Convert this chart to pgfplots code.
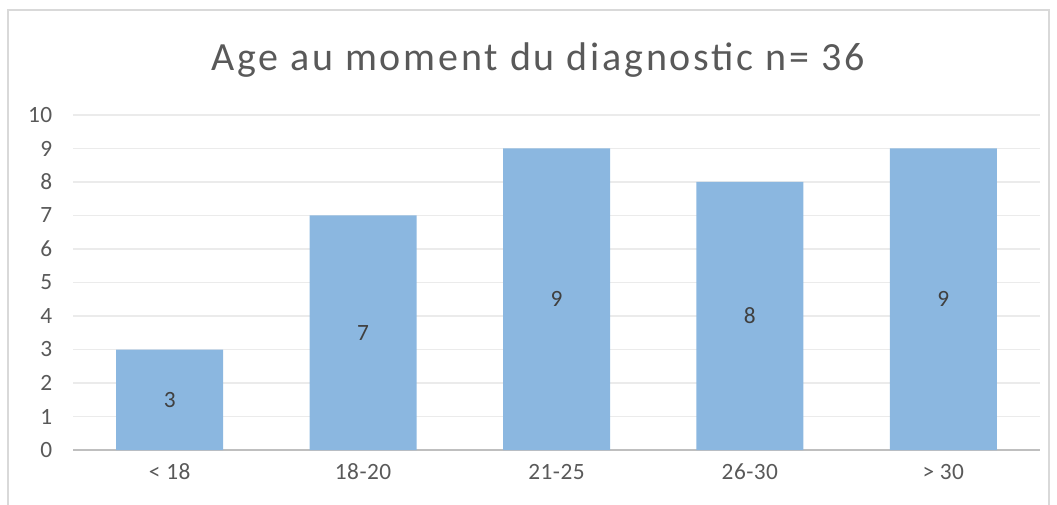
\documentclass[border=0pt]{standalone}
\usepackage{pgfplots}
\pgfplotsset{compat=1.18}
\usepackage{fontspec}
\setmainfont{Carlito}
\definecolor{barc}{RGB}{139,183,224}
\definecolor{txt}{RGB}{89,89,89}
\definecolor{lbl}{RGB}{64,64,64}
\definecolor{gridc}{RGB}{235,235,235}
\definecolor{axc}{RGB}{191,191,191}
\definecolor{frame}{RGB}{217,217,217}
\begin{document}
\begin{tikzpicture}[x=0.75pt,y=0.75pt]
\useasboundingbox (0,0) rectangle (1057,504);
\draw[frame,line width=1.5] (8,-5) -- (8,494) -- (1049,494) -- (1049,-5);
\node[txt,font=\fontsize{30}{35}\selectfont\addfontfeatures{LetterSpace=7}] at (538,444) {Age au moment du diagnostic n= 36};
\begin{axis}[
  at={(54.75pt,40.5pt)}, anchor=south west,
  scale only axis, width=725.25pt, height=251.25pt,
  xmin=-0.5, xmax=4.5, ymin=0, ymax=10,
  ytick={0,...,10},
  xtick={0,1,2,3,4},
  xticklabels={< 18,18-20,21-25,26-30,> 30},
  axis x line=bottom, axis y line=left,
  y axis line style={draw=none},
  x axis line style={draw=axc,line width=1.5pt,-},
  major tick length=0pt,
  ymajorgrids, grid style={gridc,line width=1.2pt},
  tick label style={txt,font=\fontsize{17.5}{20}\selectfont\addfontfeatures{LetterSpace=2}},
  yticklabel style={xshift=-12pt},
  xticklabel style={yshift=-7pt},
  /pgf/number format/assume math mode=true,
  clip=false,
]
\addplot[ybar, bar width=80.25pt, fill=barc, draw=none]
  coordinates {(0,3) (1,7) (2,9) (3,8) (4,9)};
\addplot[only marks, mark=none, point meta=explicit symbolic,
  nodes near coords, nodes near coords align=center,
  every node near coord/.style={lbl,font=\fontsize{17.5}{20}\selectfont,anchor=center}]
  coordinates {(0,1.5) [3] (1,3.5) [7] (2,4.5) [9] (3,4) [8] (4,4.5) [9]};
\end{axis}
\end{tikzpicture}
\end{document}
